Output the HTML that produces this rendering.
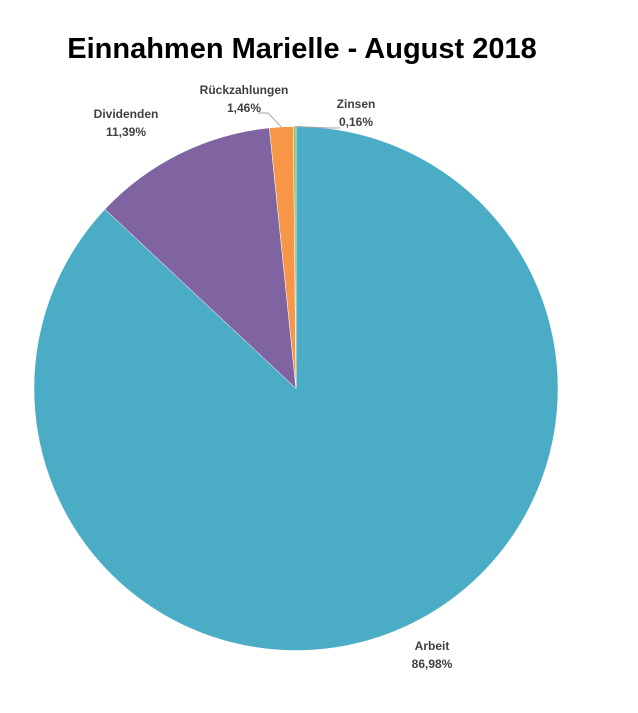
<!DOCTYPE html>
<html><head><meta charset="utf-8"><style>
body{margin:0;background:#fff;width:638px;height:708px;overflow:hidden}
svg text{font-family:"Liberation Sans",sans-serif;fill:#404040}
</style></head><body>
<svg width="638" height="708">
<text x="302" y="58" text-anchor="middle" style="font-size:29px;font-weight:bold;fill:#000">Einnahmen Marielle - August 2018</text>
<g id="slices"></g>
<g id="labels"></g>
</svg>
<script>
const categories=["Arbeit","Dividenden","Rückzahlungen","Zinsen"];
const values=[86.98,11.39,1.46,0.16];
const valueLabels=["86,98%","11,39%","1,46%","0,16%"];
const colors=["#4bacc6","#8064a2","#f79646","#9bbb59"];
const cx=296,cy=388.5,r=262;
const ns="http://www.w3.org/2000/svg";
const total=values.reduce((a,b)=>a+b,0);
function pt(a,rr){return [cx+rr*Math.sin(a),cy-rr*Math.cos(a)];}
const sg=document.getElementById('slices');
let a0=0;
const labelPos=[[432,650],[126,118],[244,94],[356,108]];
values.forEach((v,i)=>{
 const a1=a0+v/total*2*Math.PI;
 const p0=pt(a0,r),p1=pt(a1,r);
 const path=document.createElementNS(ns,'path');
 path.setAttribute('d',`M${cx},${cy}L${p0[0]},${p0[1]}A${r},${r} 0 ${a1-a0>Math.PI?1:0} 1 ${p1[0]},${p1[1]}Z`);
 path.setAttribute('fill',colors[i]);
 path.setAttribute('stroke','#fff');path.setAttribute('stroke-width','0.5');
 
 
 sg.appendChild(path);
 const [lx,ly]=labelPos[i];
 const t=document.createElementNS(ns,'text');
 t.setAttribute('x',lx);t.setAttribute('y',ly);t.setAttribute('text-anchor','middle');
 t.setAttribute('style','font-size:12px;font-weight:bold');
 
 
 t.textContent=categories[i];
 const t2=document.createElementNS(ns,'tspan');
 t2.setAttribute('x',lx);t2.setAttribute('dy','18');
 t2.textContent=valueLabels[i];
 t.appendChild(t2);
 document.getElementById('labels').appendChild(t);
 if(i>=2){
  const mid=pt((a0+a1)/2,r);
  const l=document.createElementNS(ns,'polyline');
  const sx=i==2?258:340,sy=i==2?113:128;
  l.setAttribute('points',`${sx},${sy} ${i==2?268:330},${sy} ${mid[0]},${mid[1]}`);
  l.setAttribute('fill','none');l.setAttribute('stroke','#a6a6a6');l.setAttribute('stroke-width','1');
  
  
  document.getElementById('labels').appendChild(l);
 }
 a0=a1;
});
</script>
</body></html>
